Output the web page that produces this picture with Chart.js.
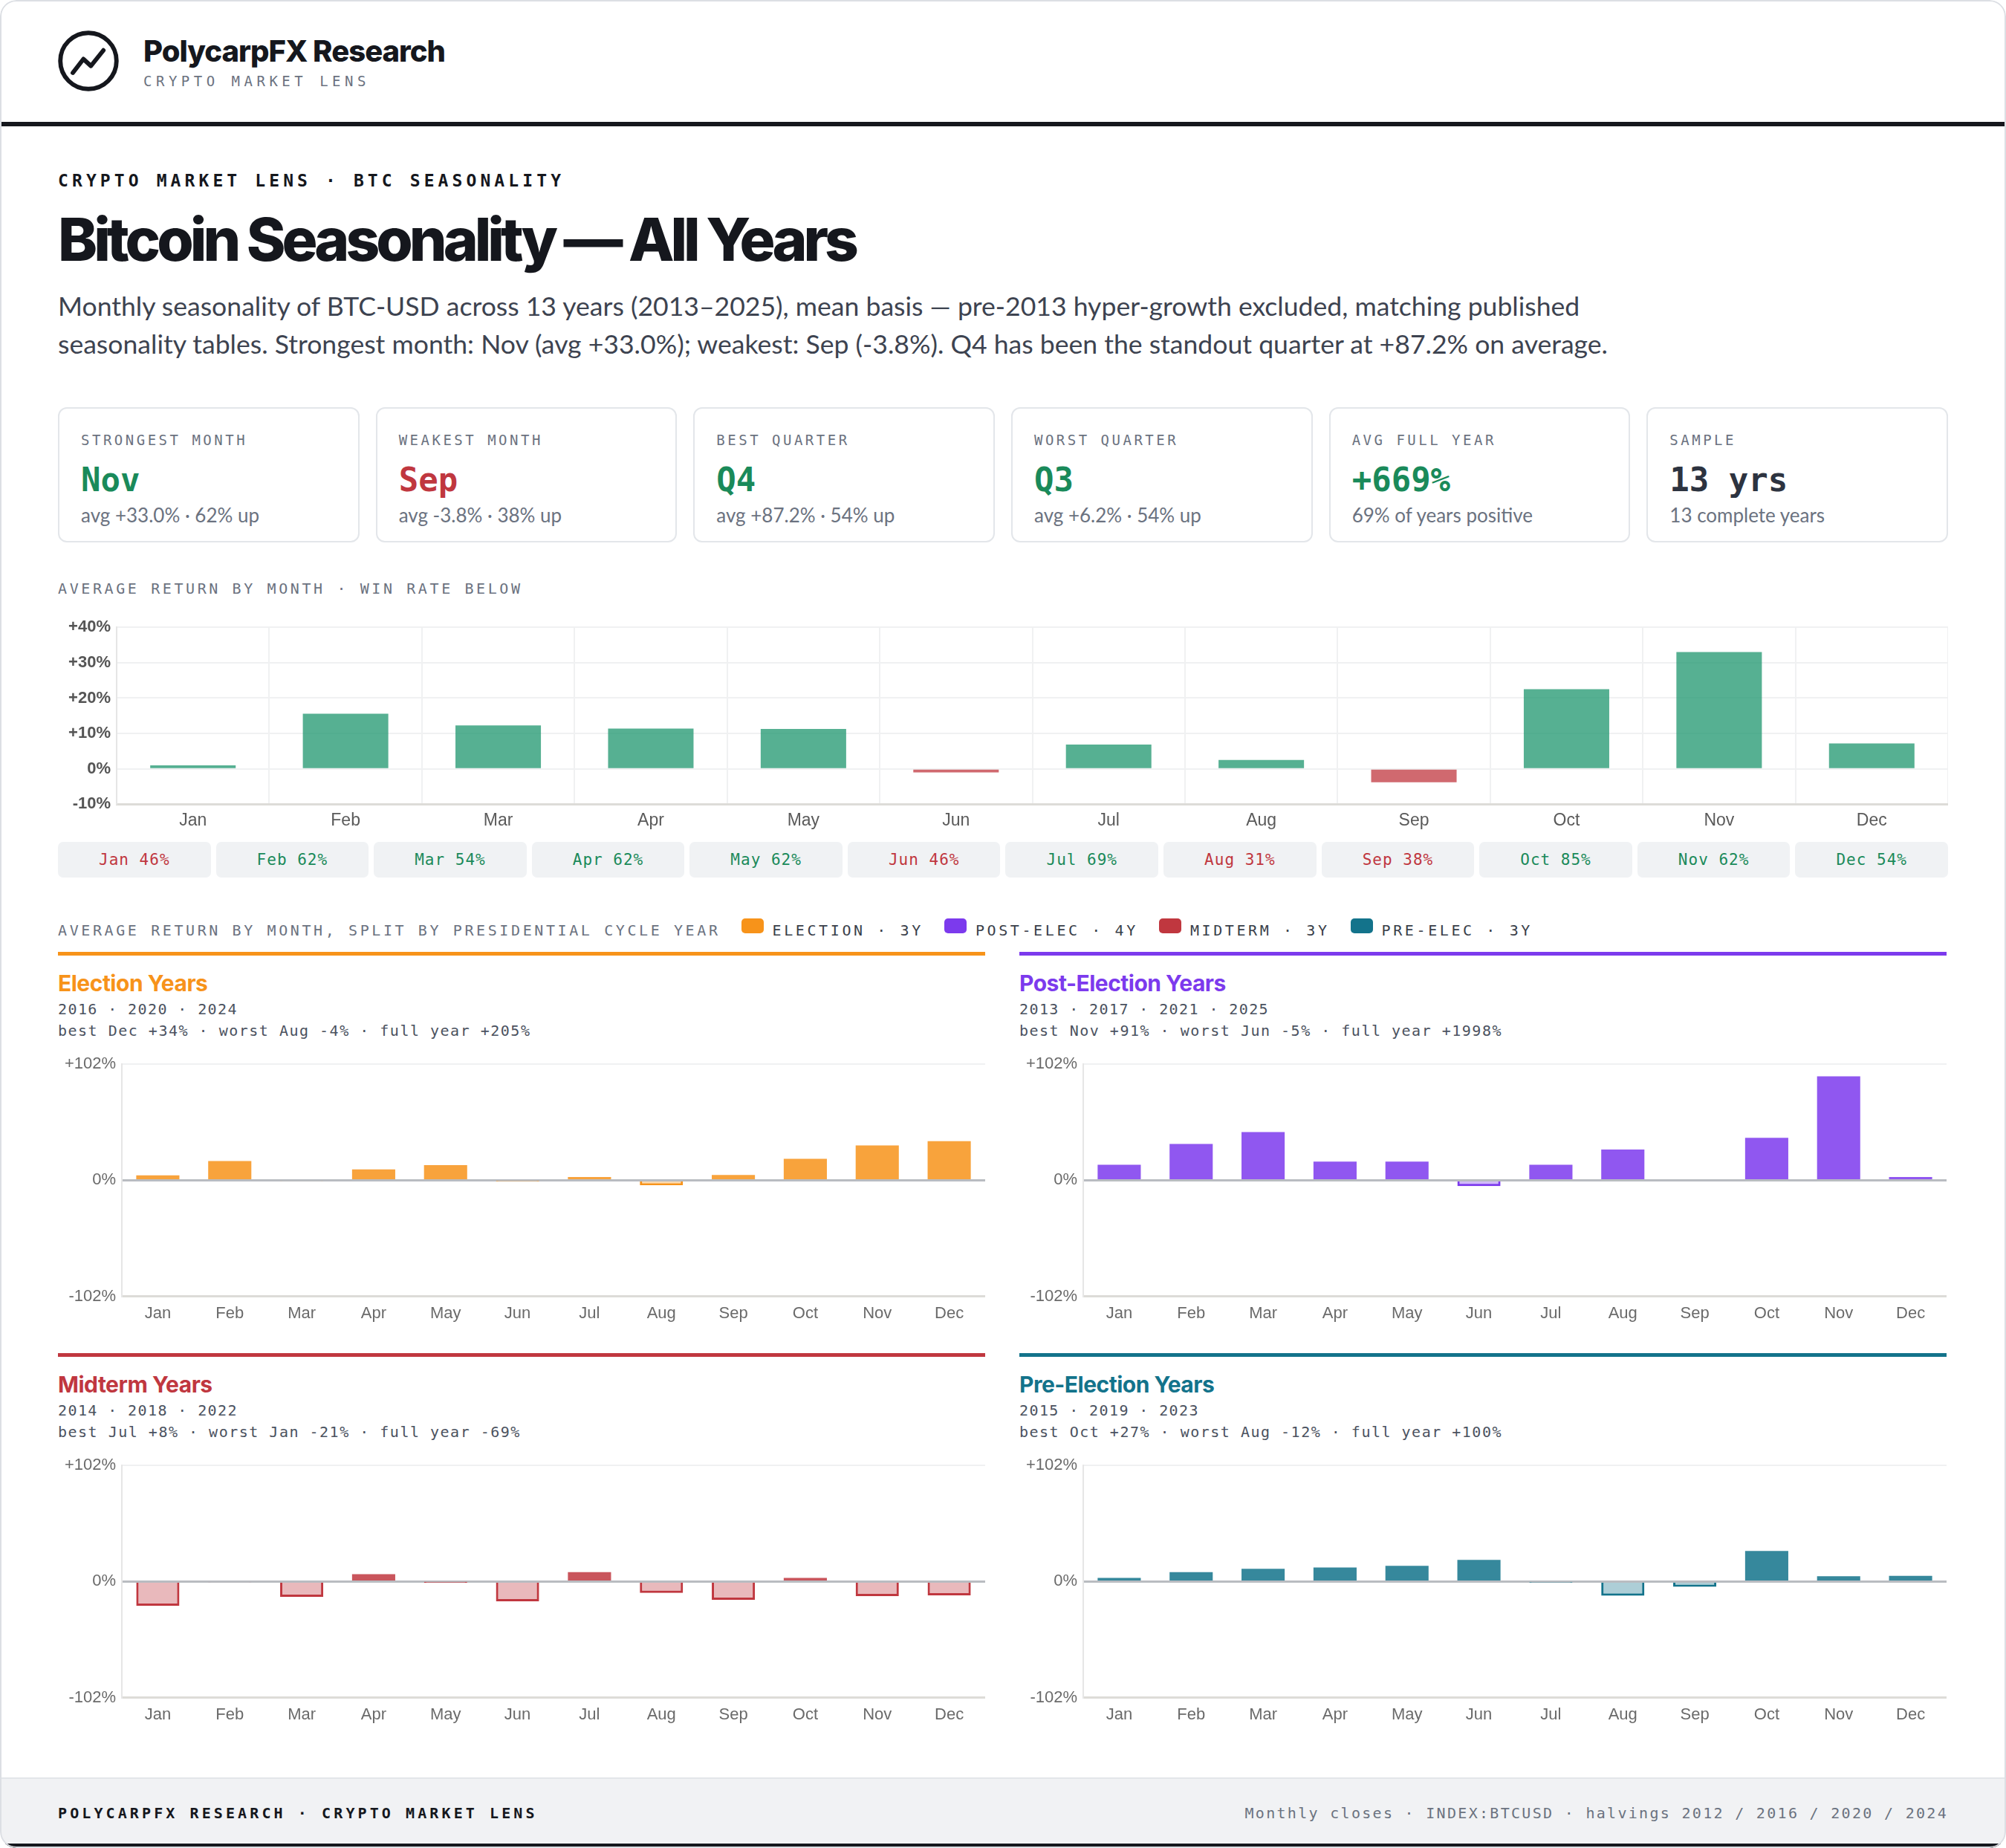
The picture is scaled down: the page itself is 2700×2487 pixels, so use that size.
<!DOCTYPE html>
<html lang="en">
<head>
<meta charset="UTF-8">
<title>Bitcoin Seasonality — All Years</title>
<script src="https://cdn.jsdelivr.net/npm/chart.js@4.4.1/dist/chart.umd.min.js"></script>
<style>
  html, body { margin: 0; padding: 0; background: #fff; }
  body { width: 2700px; height: 2487px; position: relative; overflow: hidden; font-family: Lato, "Open Sans", sans-serif; color: #15171d; }
  .card { position: absolute; left: 0; top: 0; width: 2700px; height: 2487px; border-radius: 22px; overflow: hidden; background: #fff; }
  .card::after { content: ""; position: absolute; inset: 0; border: 2px solid #dcdfe4; border-radius: 22px; pointer-events: none; }
  .abs { position: absolute; }
  .mono { font-family: "DejaVu Sans Mono", "Liberation Mono", monospace; }
  .logo { left: 77px; top: 40px; width: 84px; height: 84px; }
  .brand { left: 193px; top: 45px; font-family: Inter, sans-serif; font-weight: 800; font-size: 40px; line-height: 48px; letter-spacing: -1px; }
  .brand-sub { left: 193px; top: 97px; font-size: 19px; line-height: 24px; letter-spacing: 5.5px; color: #6b7280; }
  .rule { left: 0; top: 164px; width: 2700px; height: 6px; background: #15171d; }
  .eyebrow { left: 78px; top: 229px; font-size: 23px; line-height: 28px; font-weight: bold; letter-spacing: 5.1px; }
  .title { left: 78px; top: 274px; font-family: Inter, sans-serif; font-weight: 800; font-size: 80px; line-height: 96px; letter-spacing: -5px; white-space: nowrap; }
  .subtitle { left: 78px; top: 386px; font-size: 35.6px; line-height: 51px; color: #3d4350; white-space: nowrap; }
  .kpis { left: 78px; top: 548px; width: 2544px; height: 182px; display: grid; grid-template-columns: repeat(6, 1fr); gap: 22px; }
  .kpi { box-sizing: border-box; border: 2px solid #e3e6ea; border-radius: 12px; padding: 30px 0 0 29px; height: 182px; }
  .kpi .lbl { font-size: 19px; line-height: 24px; letter-spacing: 3.5px; color: #6b7280; }
  .kpi .val { font-size: 44px; line-height: 52px; font-weight: bold; margin-top: 16px; }
  .kpi .sub { font-size: 26px; line-height: 30px; color: #6b7280; margin-top: 6px; }
  .sec { font-size: 20px; line-height: 24px; letter-spacing: 3.6px; color: #6b7280; white-space: nowrap; }
  .main-wrap { left: 78px; top: 823px; width: 2544px; height: 303px; }
  .chips { left: 78px; top: 1133px; width: 2544px; height: 48px; display: grid; grid-template-columns: repeat(12, 1fr); gap: 7px; }
  .chip { background: #f0f2f4; border-radius: 7px; display: flex; align-items: center; justify-content: center; font-size: 21px; letter-spacing: 1px; }
  .legend { display: flex; align-items: center; left: 78px; top: 1240px; height: 24px; }
  .legend .item { display: flex; align-items: center; margin-left: 28px; color: #3a3f4a; }
  .legend .sw { width: 30px; height: 20px; border-radius: 5px; margin-right: 12px; position: relative; top: -6px; }
  .panel { box-sizing: border-box; border-top: 5px solid; width: 1248px; height: 520px; }
  .panel h3 { position: absolute; left: 0; top: 19px; margin: 0; font-family: Inter, sans-serif; font-weight: 700; font-size: 30px; line-height: 36px; letter-spacing: -0.5px; }
  .panel .yrs { position: absolute; left: 0; top: 60px; font-size: 20px; line-height: 24px; letter-spacing: 1.4px; color: #4b5260; white-space: nowrap; }
  .panel .stats { position: absolute; left: 0; top: 89px; font-size: 20px; line-height: 24px; letter-spacing: 1.5px; color: #4b5260; white-space: nowrap; }
  .panel .cw { position: absolute; left: 0; top: 125px; width: 1248px; height: 380px; }
  .footer { left: 0; top: 2392px; width: 2700px; height: 95px; box-sizing: border-box; background: #f1f2f4; border-top: 2px solid #e3e6ea; border-bottom: 6px solid #15171d; }
  .footer .l { position: absolute; left: 78px; top: 34px; font-size: 20px; line-height: 24px; letter-spacing: 4.1px; font-weight: bold; }
  .footer .r { position: absolute; right: 78px; top: 34px; font-size: 20px; line-height: 24px; letter-spacing: 2.3px; color: #6b7280; }
</style>
</head>
<body>
<div class="card">
  <svg class="abs logo" viewBox="0 0 100 100">
    <circle cx="50" cy="50" r="45" fill="none" stroke="#15171d" stroke-width="7"/>
    <polyline points="25,69 42,47 54,58 74,33" fill="none" stroke="#15171d" stroke-width="7" stroke-linejoin="round" stroke-linecap="round"/>
  </svg>
  <div class="abs brand">PolycarpFX Research</div>
  <div class="abs mono brand-sub">CRYPTO MARKET LENS</div>
  <div class="abs rule"></div>

  <div class="abs mono eyebrow">CRYPTO MARKET LENS · BTC SEASONALITY</div>
  <div class="abs title">Bitcoin Seasonality — All Years</div>
  <div class="abs subtitle">Monthly seasonality of BTC-USD across 13 years (2013–2025), mean basis — pre-2013 hyper-growth excluded, matching published<br>seasonality tables. Strongest month: Nov (avg +33.0%); weakest: Sep (-3.8%). Q4 has been the standout quarter at +87.2% on average.</div>

  <div class="abs kpis" id="kpis"></div>

  <div class="abs mono sec" style="left:78px; top:780px;">AVERAGE RETURN BY MONTH · WIN RATE BELOW</div>
  <div class="abs main-wrap"><canvas id="mainChart"></canvas></div>
  <div class="abs chips mono" id="chips"></div>

  <div class="abs legend mono sec" id="legend">
    <span>AVERAGE RETURN BY MONTH, SPLIT BY PRESIDENTIAL CYCLE YEAR</span>
  </div>

  <div id="panels"></div>

  <div class="abs footer">
    <div class="mono l">POLYCARPFX RESEARCH · CRYPTO MARKET LENS</div>
    <div class="mono r">Monthly closes · INDEX:BTCUSD · halvings 2012 / 2016 / 2020 / 2024</div>
  </div>
</div>

<script>
  // ---- data ----
  const months = ['Jan', 'Feb', 'Mar', 'Apr', 'May', 'Jun', 'Jul', 'Aug', 'Sep', 'Oct', 'Nov', 'Dec'];
  const avgReturn = [1.0, 15.6, 12.3, 11.4, 11.3, -1.0, 6.9, 2.5, -3.8, 22.5, 33.0, 7.2];
  const winRate = [46, 62, 54, 62, 62, 46, 69, 31, 38, 85, 62, 54];
  const mainMin = -10, mainMax = 40, mainStep = 10;

  const electionAvg = [4.3, 16.9, -0.8, 9.6, 13.3, -0.5, 2.9, -4.3, 4.6, 18.8, 30.6, 34.3];
  const postElectionAvg = [13.7, 32.0, 42.4, 16.4, 16.4, -5.1, 13.7, 27.0, 0, 37.3, 91.3, 2.9];
  const midtermAvg = [-21.3, -0.8, -13.5, 6.4, -0.3, -17.4, 8.3, -10.1, -16.0, 3.2, -12.8, -12.2];
  const preElectionAvg = [3.2, 8.3, 11.2, 12.4, 13.8, 19.0, -0.6, -12.4, -4.6, 26.8, 4.6, 5.0];
  const cycleRange = 102;

  const kpiLabels = ['STRONGEST MONTH', 'WEAKEST MONTH', 'BEST QUARTER', 'WORST QUARTER', 'AVG FULL YEAR', 'SAMPLE'];
  const kpiValues = ['Nov', 'Sep', 'Q4', 'Q3', '+669%', '13 yrs'];
  const kpiSubs = ['avg +33.0% · 62% up', 'avg -3.8% · 38% up', 'avg +87.2% · 54% up', 'avg +6.2% · 54% up', '69% of years positive', '13 complete years'];
  const kpiTones = ['up', 'down', 'up', 'up', 'up', 'flat'];

  const cycleNames = ['Election Years', 'Post-Election Years', 'Midterm Years', 'Pre-Election Years'];
  const cycleKeys = ['ELECTION · 3Y', 'POST-ELEC · 4Y', 'MIDTERM · 3Y', 'PRE-ELEC · 3Y'];
  const cycleYears = ['2016 · 2020 · 2024', '2013 · 2017 · 2021 · 2025', '2014 · 2018 · 2022', '2015 · 2019 · 2023'];
  const cycleStats = [
    'best Dec +34% · worst Aug -4% · full year +205%',
    'best Nov +91% · worst Jun -5% · full year +1998%',
    'best Jul +8% · worst Jan -21% · full year -69%',
    'best Oct +27% · worst Aug -12% · full year +100%'
  ];
  const cycleSeries = [electionAvg, postElectionAvg, midtermAvg, preElectionAvg];

  // ---- colours ----
  const GREEN = '#1a8a5a', RED = '#c0373f', INK = '#2d3340';
  const cycleRGB = [[247, 147, 26], [124, 58, 237], [192, 55, 63], [19, 115, 139]];
  const rgba = (c, a) => `rgba(${c[0]},${c[1]},${c[2]},${a})`;
  const pct = v => (v > 0 ? '+' : '') + v + '%';

  Chart.defaults.font.family = "'Liberation Sans', Arial, sans-serif";
  Chart.defaults.color = '#666';

  // KPI cards
  const kpis = document.getElementById('kpis');
  kpiLabels.forEach((lbl, i) => {
    const col = kpiTones[i] === 'up' ? GREEN : kpiTones[i] === 'down' ? RED : INK;
    const d = document.createElement('div');
    d.className = 'kpi';
    d.innerHTML = `<div class="lbl mono">${lbl}</div>
      <div class="val mono" style="color:${col}">${kpiValues[i]}</div>
      <div class="sub">${kpiSubs[i]}</div>`;
    kpis.appendChild(d);
  });

  // win-rate chips
  const chips = document.getElementById('chips');
  months.forEach((m, i) => {
    const c = document.createElement('div');
    c.className = 'chip';
    c.style.color = winRate[i] >= 50 ? GREEN : RED;
    c.textContent = `${m} ${winRate[i]}%`;
    chips.appendChild(c);
  });

  // main chart
  new Chart(document.getElementById('mainChart'), {
    type: 'bar',
    data: {
      labels: months,
      datasets: [{
        data: avgReturn,
        backgroundColor: avgReturn.map(v => v >= 0 ? 'rgba(30,150,110,0.75)' : 'rgba(192,55,63,0.75)'),
        borderWidth: 0,
        categoryPercentage: 1,
        barPercentage: 0.56
      }]
    },
    options: {
      animation: false,
      responsive: true,
      maintainAspectRatio: false,
      plugins: { legend: { display: false }, tooltip: { enabled: false } },
      layout: { padding: 0 },
      scales: {
        x: {
          grid: { color: '#f0f1f2', lineWidth: 2, drawTicks: false },
          border: { color: '#dddcd8', width: 3 },
          ticks: { padding: 8, font: { size: 23 }, color: '#5a5a5a' }
        },
        y: {
          min: mainMin, max: mainMax,
          afterFit: s => { s.width = 79; },
          grid: { color: '#f0f1f2', lineWidth: 2, drawTicks: false },
          border: { color: '#e6e6e6', width: 2 },
          ticks: { stepSize: mainStep, padding: 8, callback: pct, font: { size: 22, weight: 'bold' }, color: '#555' }
        }
      }
    }
  });

  // legend
  const legend = document.getElementById('legend');
  cycleKeys.forEach((k, i) => {
    const it = document.createElement('span');
    it.className = 'item';
    it.innerHTML = `<span class="sw" style="background:${rgba(cycleRGB[i], 1)}"></span>${k}`;
    legend.appendChild(it);
  });

  // cycle panels
  const panelPos = [[78, 1281], [1372, 1281], [78, 1821], [1372, 1821]];
  const panels = document.getElementById('panels');
  cycleNames.forEach((name, i) => {
    const col = rgba(cycleRGB[i], 1);
    const p = document.createElement('div');
    p.className = 'abs panel';
    p.style.left = panelPos[i][0] + 'px';
    p.style.top = panelPos[i][1] + 'px';
    p.style.borderTopColor = col;
    p.innerHTML = `<h3 style="color:${col}">${name}</h3>
      <div class="yrs mono">${cycleYears[i]}</div>
      <div class="stats mono">${cycleStats[i]}</div>
      <div class="cw"><canvas id="cycle${i}"></canvas></div>`;
    panels.appendChild(p);

    const vals = cycleSeries[i];
    new Chart(document.getElementById('cycle' + i), {
      type: 'bar',
      data: {
        labels: months,
        datasets: [{
          data: vals,
          backgroundColor: vals.map(v => v >= 0 ? rgba(cycleRGB[i], 0.85) : rgba(cycleRGB[i], 0.35)),
          borderColor: col,
          borderWidth: vals.map(v => v >= 0 ? 0 : 3),
          borderSkipped: 'start',
          categoryPercentage: 1,
          barPercentage: 0.6
        }]
      },
      options: {
        animation: false,
        responsive: true,
        maintainAspectRatio: false,
        plugins: { legend: { display: false }, tooltip: { enabled: false } },
        layout: { padding: 0 },
        scales: {
          x: {
            grid: { display: false, drawTicks: false },
            border: { color: '#dddcd8', width: 3 },
            ticks: { padding: 10, font: { size: 22 }, color: '#6a6a6a' }
          },
          y: {
            min: -cycleRange, max: cycleRange,
            afterFit: s => { s.width = 86; },
            afterBuildTicks: s => { s.ticks = [-cycleRange, 0, cycleRange].map(v => ({ value: v })); },
            grid: {
              drawTicks: false,
              color: c => c.tick && c.tick.value === 0 ? '#b9bcc1' : '#f0f1f2',
              lineWidth: c => c.tick && c.tick.value === 0 ? 3 : 2
            },
            border: { color: '#e6e6e6', width: 2 },
            ticks: { padding: 8, callback: pct, font: { size: 22 }, color: '#6a6a6a' }
          }
        }
      }
    });
  });
</script>
</body>
</html>
